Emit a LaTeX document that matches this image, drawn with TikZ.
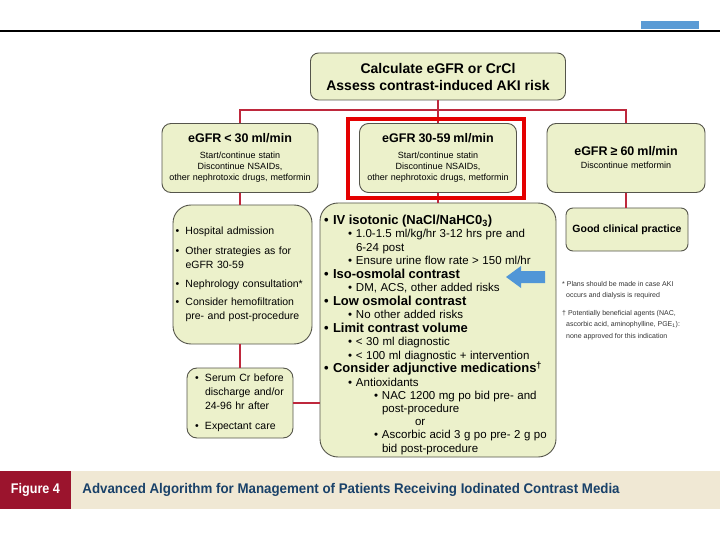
\documentclass[tikz,border=0pt]{standalone}
\usepackage{fontspec}
\setmainfont{Liberation Sans}
\newfontfamily\capfont[FakeStretch=0.95]{Liberation Sans}
\newfontfamily\tagfont[FakeStretch=0.9]{Liberation Sans}
\usetikzlibrary{positioning}
\definecolor{boxfill}{RGB}{236,241,203}
\definecolor{boxline}{RGB}{85,85,75}
\definecolor{connred}{RGB}{190,40,60}
\definecolor{hired}{RGB}{228,0,0}
\definecolor{arrblue}{RGB}{80,150,215}
\definecolor{barblue}{RGB}{91,155,213}
\definecolor{figred}{RGB}{155,20,45}
\definecolor{capbg}{RGB}{240,232,212}
\definecolor{capblue}{RGB}{25,65,105}
\setlength{\parskip}{0pt}
\hfuzz=30pt \hbadness=10000
% bullet levels
\newcommand{\bitem}[1]{{\hangindent=10pt\hangafter=1\noindent\makebox[10pt][l]{\textbullet}#1\par}}
\newcommand{\lvlone}[1]{{\fontsize{13}{13.5}\selectfont\bfseries\hangindent=9pt\hangafter=1\noindent\makebox[9pt][l]{\textbullet}#1\par}}
\newcommand{\lvltwo}[1]{{\fontsize{11.5}{13.5}\selectfont\leftskip=24pt\hangindent=8pt\hangafter=1\noindent\makebox[8pt][l]{\textbullet}#1\par}}
\newcommand{\lvlthree}[1]{{\fontsize{11.5}{13.4}\selectfont\leftskip=50pt\hangindent=8pt\hangafter=1\noindent\makebox[8pt][l]{\textbullet}#1\par}}

\begin{document}
\begin{tikzpicture}[x=1pt, y=-1pt,
  box/.style={rectangle, rounded corners=9pt, draw=boxline, fill=boxfill, line width=0.9pt, align=center, inner sep=0pt},
  topbox/.style={box, rounded corners=8pt, minimum width=255pt, minimum height=47pt, font=\fontsize{14}{17}\selectfont\bfseries},
  grpbox/.style={box, minimum height=69pt, text width=152pt, font=\fontsize{9}{11}\selectfont},
  carebox/.style={box, rounded corners=18pt, align=left, font=\fontsize{10.5}{14}\selectfont},
  gcpbox/.style={box, rounded corners=7pt, minimum width=122pt, minimum height=43pt, font=\fontsize{10.5}{13}\selectfont\bfseries},
  hilite/.style={rectangle, draw=hired, line width=4pt, minimum width=176pt, minimum height=79pt},
  conn/.style={draw=connred, line width=1.8pt},
  note/.style={anchor=north west, align=left, inner sep=0pt, font=\fontsize{7}{11.5}\selectfont, text=black!80},
  figtag/.style={rectangle, fill=figred, text=white, minimum width=71pt, minimum height=38pt, inner sep=0pt, font=\tagfont\fontsize{14}{16}\selectfont\bfseries},
  capbar/.style={rectangle, fill=capbg, text=capblue, minimum width=649pt, minimum height=38pt, inner xsep=11pt, inner ysep=0pt, text width=627pt, align=flush left, font=\capfont\fontsize{14}{16}\selectfont\bfseries}
]
\useasboundingbox (0,0) rectangle (720,540);
% page header
\draw[line width=1.4pt] (0,31) -- (720,31);
\fill[barblue] (641,21) rectangle (699,29);

\node[topbox] (calc) at (438,76.5) {Calculate eGFR or CrCl\\Assess contrast-induced AKI risk};
\node[grpbox, minimum width=156pt] (low) at (240,158) {{\fontsize{12.5}{15}\selectfont\bfseries eGFR < 30 ml/min\par}\vskip5pt
  Start/continue statin\\Discontinue NSAIDs,\\other nephrotoxic drugs, metformin};
\node[grpbox, minimum width=157pt] (mid) at (438,158) {{\fontsize{12.5}{15}\selectfont\bfseries eGFR 30-59 ml/min\par}\vskip5pt
  Start/continue statin\\Discontinue NSAIDs,\\other nephrotoxic drugs, metformin};
\node[grpbox, minimum width=158pt] (high) at (626,158) {{\fontsize{12.5}{15}\selectfont\bfseries eGFR ≥ 60 ml/min\par}\vskip2pt
  Discontinue metformin};

\node[carebox, minimum width=139pt, minimum height=139pt, text width=134pt] (lowcare) at (242.5,274.5) {%
  \bitem{Hospital admission}\vskip6pt
  \bitem{Other strategies as for\newline eGFR 30-59}\vskip5pt
  \bitem{Nephrology consultation*}\vskip4pt
  \bitem{Consider hemofiltration\newline pre- and post-procedure}};
\node[carebox, minimum width=236pt, minimum height=254pt, text width=228pt] (midcare) at (438,330) {%
  \vskip5pt
  \lvlone{IV isotonic (NaCl/NaHC0\textsubscript{3})}
  \lvltwo{1.0-1.5 ml/kg/hr 3-12 hrs pre and\newline 6-24 post}
  \lvltwo{Ensure urine flow rate > 150 ml/hr}
  \lvlone{Iso-osmolal contrast}
  \lvltwo{DM, ACS, other added risks}
  \lvlone{Low osmolal contrast}
  \lvltwo{No other added risks}
  \lvlone{Limit contrast volume}
  \lvltwo{< 30 ml diagnostic}
  \lvltwo{< 100 ml diagnostic + intervention}
  \lvlone{Consider adjunctive medications\textsuperscript{†}}
  \lvltwo{Antioxidants}
  \lvlthree{NAC 1200 mg po bid pre- and\newline post-procedure}
  {\fontsize{11.5}{12.5}\selectfont\leftskip=91pt\noindent or\par}
  \lvlthree{Ascorbic acid 3 g po pre- 2 g po\newline bid post-procedure}};
\node[gcpbox] (gcp) at (627,229.5) {Good clinical practice};
\node[carebox, rounded corners=10pt, minimum width=106pt, minimum height=70pt, text width=90pt] (follow) at (240,403) {%
  \bitem{Serum Cr before\newline discharge~and/or\newline 24-96 hr after}\vskip6pt
  \bitem{Expectant care}};

% connectors
\coordinate (bus) at (438,110);
\draw[conn] (calc.south) -- (bus);
\draw[conn] (low.north) |- (bus) -| (high.north);
\draw[conn] (bus) -- (mid.north);
\draw[conn] (mid.south) -- (midcare.north);
\draw[conn] (low.south) -- (low.south |- lowcare.north);
\draw[conn] (follow.north) -- (follow.north |- lowcare.south);
\draw[conn] (high.south) -- (high.south |- gcp.north);
\draw[conn] (follow.east) -- (follow.east -| midcare.west);
\node[hilite] (hl) at (436,158.5) {};

% pointer
\fill[arrblue] (506,277) -- (521,266) -- (521,271) -- (545,271) -- (545,283) -- (521,283) -- (521,288) -- cycle;

% footnotes
\node[note] (fna) at (562,281) {* Plans should be made in case AKI\\\hspace*{4pt}occurs and dialysis is required};
\node[note] (fnb) at (562,310) {† Potentially beneficial agents (NAC,\\\hspace*{4pt}ascorbic acid, aminophylline, PGE\textsubscript{1}):\\\hspace*{4pt}none approved for this indication};

% caption
\node[figtag] (fig) at (35.5,490) {Figure 4};
\node[capbar, right=0pt of fig] (cap) {Advanced Algorithm for Management of Patients Receiving Iodinated Contrast Media};
\end{tikzpicture}
\end{document}
